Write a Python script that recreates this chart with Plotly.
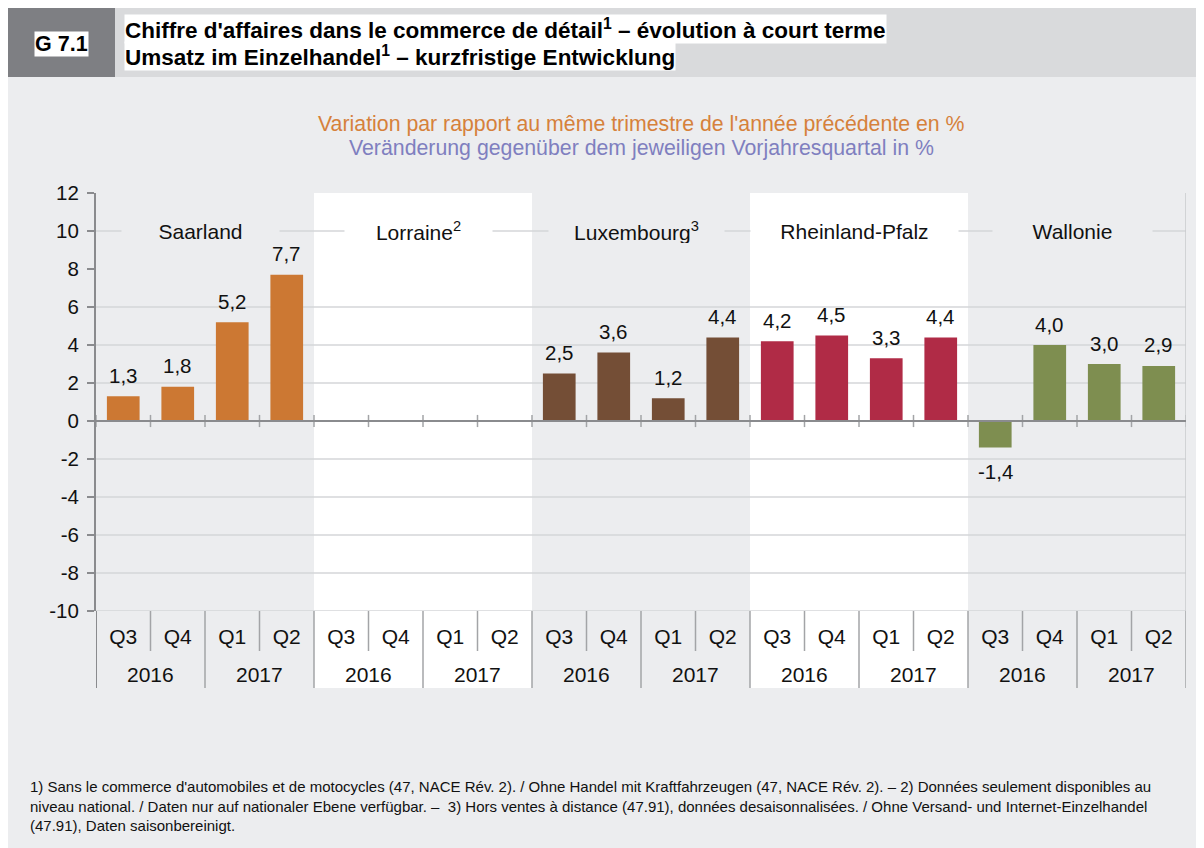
import plotly.graph_objects as go

# ---------------- data ----------------
regions = ["Saarland", "Lorraine", "Luxembourg", "Rheinland-Pfalz", "Wallonie"]
region_labels = ["Saarland", "Lorraine<sup>2</sup>", "Luxembourg<sup>3</sup>", "Rheinland-Pfalz", "Wallonie"]
quarters = ["Q3", "Q4", "Q1", "Q2"]
years = ["2016", "2017"]

saarland = [1.3, 1.8, 5.2, 7.7]
lorraine = [None, None, None, None]
luxembourg = [2.5, 3.6, 1.2, 4.4]
rheinland_pfalz = [4.2, 4.5, 3.3, 4.4]
wallonie = [-1.4, 4.0, 3.0, 2.9]

series = [saarland, lorraine, luxembourg, rheinland_pfalz, wallonie]

y_ticks = [12, 10, 8, 6, 4, 2, 0, -2, -4, -6, -8, -10]
grid_vals = [10, 6, 4, 2, -2, -4, -6, -8, -10]

title_fr = "Chiffre d'affaires dans le commerce de détail<sup>1</sup> – évolution à court terme"
title_de = "Umsatz im Einzelhandel<sup>1</sup> – kurzfristige Entwicklung"
subtitle_fr = "Variation par rapport au même trimestre de l'année précédente en %"
subtitle_de = "Veränderung gegenüber dem jeweiligen Vorjahresquartal in %"
footnote = ("1) Sans le commerce d'automobiles et de motocycles (47, NACE Rév. 2). / Ohne Handel mit Kraftfahrzeugen (47, NACE Rév. 2). – 2) Données seulement disponibles au<br>"
            "niveau national. / Daten nur auf nationaler Ebene verfügbar. –  3) Hors ventes à distance (47.91), données desaisonnalisées. / Ohne Versand- und Internet-Einzelhandel<br>"
            "(47.91), Daten saisonbereinigt.")

# ---------------- styles ----------------
colors = {"Saarland": "#CC7833", "Lorraine": "#888888", "Luxembourg": "#744E36",
          "Rheinland-Pfalz": "#B02B46", "Wallonie": "#7E8E50"}
white_band = {"Lorraine", "Rheinland-Pfalz"}
label_box_w = {"Saarland": 155, "Lorraine": 145, "Luxembourg": 173, "Rheinland-Pfalz": 205, "Wallonie": 157}
PAGE_BG = "#ECEDEF"
HEAD_BG = "#D9DADC"
DARK = "#7E7F83"
GRID = "#D5D6D9"
SEP = "#A3A4A7"
FONT = "Liberation Sans, Arial, sans-serif"
TXT = "#111111"

OFF = 8  # page body margin
W, H = 1204 - OFF, 848 - OFF
ML, MR, MT, MB = 96 - OFF, 18, 193 - OFF, 237
PW, PH = W - ML - MR, H - MT - MB


def px2x(px):
    return (px - OFF - ML) / PW


def py2y(py):
    return (H - MB - (py - OFF)) / PH


n_q = len(quarters)
fig = go.Figure()

shapes = []
annotations = []

# page backgrounds
shapes.append(dict(type="rect", xref="paper", yref="paper", x0=px2x(7), x1=px2x(1210), y0=py2y(860), y1=py2y(77),
                   fillcolor=PAGE_BG, line_width=0, layer="below"))
shapes.append(dict(type="rect", xref="paper", yref="paper", x0=px2x(7), x1=px2x(1210), y0=py2y(77), y1=py2y(6),
                   fillcolor=HEAD_BG, line_width=0, layer="below"))
shapes.append(dict(type="rect", xref="paper", yref="paper", x0=px2x(7), x1=px2x(115), y0=py2y(77), y1=py2y(6),
                   fillcolor=DARK, line_width=0, layer="below"))

bottom_long = py2y(688)
bottom_short = py2y(651)

for ri, reg in enumerate(regions):
    start = ri * n_q
    xs = list(range(start, start + n_q))
    vals = series[ri]
    # white bands
    if reg in white_band:
        shapes.append(dict(type="rect", xref="x", yref="paper", x0=start - 0.5, x1=start + n_q - 0.5,
                           y0=bottom_long, y1=1, fillcolor="white", line_width=0, layer="below"))
    fig.add_trace(go.Bar(x=xs, y=vals, marker_color=colors[reg], marker_line_width=0, width=0.6,
                         name=reg, showlegend=False, hoverinfo="x+y"))
    for x, v in zip(xs, vals):
        if v is None:
            continue
        annotations.append(dict(x=x, y=v, xref="x", yref="y", text=f"{v:.1f}".replace(".", ","),
                                showarrow=False, xanchor="center", yanchor="middle",
                                yshift=21 if v >= 0 else -24,
                                font=dict(size=20.5, color=TXT, family=FONT)))
    # region label
    annotations.append(dict(x=start + (n_q - 1) / 2, y=10, xref="x", yref="y", text=region_labels[ri],
                            showarrow=False, xanchor="center", yanchor="middle", xshift=-5,
                            width=label_box_w[reg], height=24,
                            bgcolor="white" if reg in white_band else PAGE_BG,
                            font=dict(size=21, color=TXT, family=FONT)))
    # year labels
    for yi, yr in enumerate(years):
        annotations.append(dict(x=start + yi * 2 + 0.5, y=py2y(674), xref="x", yref="paper", text=yr,
                                showarrow=False, xanchor="center", yanchor="middle",
                                font=dict(size=21, color=TXT, family=FONT)))

# gridlines (drawn after bands)
for g in grid_vals:
    shapes.append(dict(type="line", xref="paper", yref="y", x0=0, x1=1, y0=g, y1=g,
                       line=dict(color=GRID, width=1.5), layer="below"))

n_cat = n_q * len(regions)
for k in range(n_cat + 1):
    bx = k - 0.5
    # small ticks at zero line
    shapes.append(dict(type="line", xref="x", yref="y", x0=bx, x1=bx, y0=-0.32, y1=0.32,
                       line=dict(color=SEP, width=1.5)))
    # bottom separators
    if k == 0:
        col, w = "#8A8B8E", 2
    else:
        col, w = SEP, 1.5
    y_end = bottom_long if k % 2 == 0 else bottom_short
    shapes.append(dict(type="line", xref="x", yref="paper", x0=bx, x1=bx, y0=y_end, y1=0,
                       line=dict(color=col, width=w)))
# right border line
shapes.append(dict(type="line", xref="x", yref="paper", x0=n_cat - 0.5, x1=n_cat - 0.5, y0=0, y1=1,
                   line=dict(color="#C9CACD", width=1.5)))
# zero line
shapes.append(dict(type="line", xref="paper", yref="y", x0=0, x1=1, y0=0, y1=0,
                   line=dict(color="#8A8B8E", width=2)))

# header texts
annotations.append(dict(x=px2x(61), y=py2y(44), xref="paper", yref="paper", text="<b>G 7.1</b>",
                        showarrow=False, xanchor="center", yanchor="middle", bgcolor="white", borderpad=0,
                        font=dict(size=21.5, color="black", family=FONT)))
annotations.append(dict(x=px2x(124), y=py2y(29), xref="paper", yref="paper", text="<b>" + title_fr + "</b>",
                        showarrow=False, xanchor="left", yanchor="middle", bgcolor="white", borderpad=0,
                        font=dict(size=22.5, color="black", family=FONT)))
annotations.append(dict(x=px2x(124), y=py2y(56), xref="paper", yref="paper", text="<b>" + title_de + "</b>",
                        showarrow=False, xanchor="left", yanchor="middle", bgcolor="white", borderpad=0,
                        font=dict(size=22.5, color="black", family=FONT)))
annotations.append(dict(x=px2x(641), y=py2y(124), xref="paper", yref="paper", text=subtitle_fr,
                        showarrow=False, xanchor="center", yanchor="middle",
                        font=dict(size=21.3, color="#D6813B", family=FONT)))
annotations.append(dict(x=px2x(641), y=py2y(148), xref="paper", yref="paper", text=subtitle_de,
                        showarrow=False, xanchor="center", yanchor="middle",
                        font=dict(size=21.3, color="#7F7FBF", family=FONT)))
annotations.append(dict(x=px2x(28), y=py2y(776), xref="paper", yref="paper", text=footnote,
                        showarrow=False, xanchor="left", yanchor="top", align="left",
                        font=dict(size=15, color=TXT, family=FONT)))

fig.update_layout(
    width=W, height=H,
    margin=dict(l=ML, r=MR, t=MT, b=MB, pad=0),
    paper_bgcolor="white",
    plot_bgcolor=PAGE_BG,
    bargap=0.4,
    shapes=shapes,
    annotations=annotations,
    font=dict(family=FONT, color=TXT),
    xaxis=dict(range=[-0.5, n_cat - 0.5], tickmode="array", tickvals=list(range(n_cat)),
               ticktext=quarters * len(regions), showgrid=False, zeroline=False, showline=False,
               ticks="", tickfont=dict(size=21, color=TXT, family=FONT), ticklabelstandoff=11,
               fixedrange=True),
    yaxis=dict(range=[-10, 12], tickmode="array", tickvals=y_ticks,
               ticktext=[str(t) for t in y_ticks], showgrid=False, zeroline=False,
               showline=True, linecolor="#8A8B8E", linewidth=2, ticks="outside", ticklen=7,
               tickcolor="#8A8B8E", tickwidth=1.5, tickfont=dict(size=20.5, color=TXT, family=FONT),
               ticklabelstandoff=4, fixedrange=True),
)

fig.write_html("out.html")
